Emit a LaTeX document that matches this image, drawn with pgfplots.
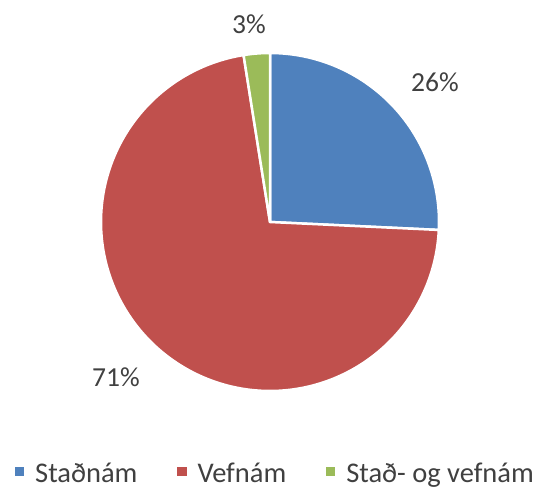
\documentclass[border=0pt]{standalone}
\usepackage{pgfplots}
\pgfplotsset{compat=1.18}
\usepackage{fontspec}
\setmainfont{Carlito}
\definecolor{cblue}{HTML}{4F81BD}
\definecolor{cred}{HTML}{C0504D}
\definecolor{cgreen}{HTML}{9BBB59}
\definecolor{ctext}{HTML}{404040}
% shares in percent (pie starts at 12 o'clock, clockwise)
\def\vA{25.75}% Staðnám
\def\vB{71.75}% Vefnám
\def\vC{2.5}%  Stað- og vefnám
\pgfmathsetmacro\aStart{90}
\pgfmathsetmacro\aA{90-3.6*\vA}
\pgfmathsetmacro\aB{\aA-3.6*\vB}
\pgfmathsetmacro\aC{\aB-3.6*\vC}
\def\cx{270}\def\cy{267}\def\R{169}
\begin{document}
\begin{tikzpicture}
\begin{axis}[
  scale only axis, width=542bp, height=489bp,
  xmin=0, xmax=542, ymin=0, ymax=489,
  axis line style={draw=none}, xtick=\empty, ytick=\empty,
  clip=false,
  legend columns=3,
  legend image code/.code={\fill[#1] (0bp,-4bp) rectangle (12bp,7.5bp);},
  legend style={draw=none, fill=none, font=\fontsize{28.5bp}{31bp}\selectfont\color{ctext},
    at={(axis cs:12,5)}, anchor=south west, inner sep=0pt,
    nodes={inner sep=0pt},
    /tikz/every odd column/.append style={column sep=8.5bp},
    /tikz/every even column/.append style={column sep=37bp},
    legend cell align=left},
]
\addplot[fill=cblue, draw=white, line width=2.5bp, domain=\aStart:\aA, samples=80]
  ({\cx+\R*cos(x)},{\cy+\R*sin(x)}) -- (axis cs:\cx,\cy) -- cycle;
\addlegendentry{Staðnám}
\addplot[fill=cred, draw=white, line width=2.5bp, domain=\aA:\aB, samples=200]
  ({\cx+\R*cos(x)},{\cy+\R*sin(x)}) -- (axis cs:\cx,\cy) -- cycle;
\addlegendentry{Vefnám}
\addplot[fill=cgreen, draw=white, line width=2.5bp, domain=\aB:\aC, samples=20]
  ({\cx+\R*cos(x)},{\cy+\R*sin(x)}) -- (axis cs:\cx,\cy) -- cycle;
\addlegendentry{Stað- og vefnám}
\node[text=ctext, font=\fontsize{27.5bp}{30bp}\selectfont] at (axis cs:435,407) {26\%};
\node[text=ctext, font=\fontsize{27.5bp}{30bp}\selectfont] at (axis cs:249,465) {3\%};
\node[text=ctext, font=\fontsize{27.5bp}{30bp}\selectfont] at (axis cs:116,112) {71\%};
\end{axis}
\end{tikzpicture}
\end{document}
